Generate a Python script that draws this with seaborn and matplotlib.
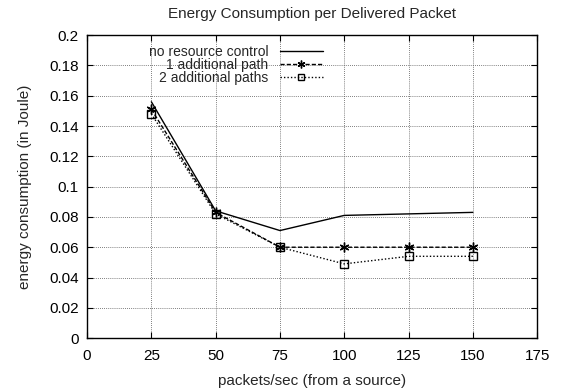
import matplotlib

matplotlib.use("Agg")
import matplotlib.pyplot as plt  # noqa: E402
import seaborn as sns  # noqa: E402

# ---------------------------------------------------------------------------
# Data
# ---------------------------------------------------------------------------
rates = [25, 50, 75, 100, 125, 150]
no_control = [0.156, 0.084, 0.071, 0.081, 0.082, 0.083]
one_path = [0.151, 0.083, 0.060, 0.060, 0.060, 0.060]
two_paths = [0.148, 0.082, 0.060, 0.049, 0.054, 0.054]

x_ticks = [0, 25, 50, 75, 100, 125, 150, 175]
y_ticks = [0, 0.02, 0.04, 0.06, 0.08, 0.1, 0.12, 0.14, 0.16, 0.18, 0.2]
y_tick_labels = ["0", "0.02", "0.04", "0.06", "0.08", "0.1", "0.12",
                 "0.14", "0.16", "0.18", "0.2"]

FS = 11

sns.set_theme(style="ticks")
plt.rcParams["font.family"] = ["Liberation Sans", "DejaVu Sans"]
plt.rcParams["font.size"] = FS

fig, ax = plt.subplots(figsize=(5.69, 3.9), dpi=100)
fig.subplots_adjust(left=0.153, right=0.944, top=0.91, bottom=0.133)

sns.lineplot(x=rates, y=no_control, ax=ax, color="black", lw=1.0,
             linestyle="-", label="no resource control")
sns.lineplot(x=rates, y=one_path, ax=ax, color="black", lw=1.0,
             linestyle=(0, (3, 1.5)), marker=(6, 2, 0), markersize=7,
             markeredgecolor="black", markeredgewidth=1.0,
             label="1 additional path")
sns.lineplot(x=rates, y=two_paths, ax=ax, color="black", lw=1.0,
             linestyle=(0, (1, 1.5)), marker="s", markersize=6,
             markerfacecolor="none", markeredgecolor="black",
             markeredgewidth=1.0, label="2 additional paths")

ax.set_xlim(0, 175)
ax.set_ylim(0, 0.2)
ax.set_xticks(x_ticks)
ax.set_yticks(y_ticks)
ax.set_yticklabels(y_tick_labels)
ax.tick_params(direction="in", top=True, right=True, length=4, width=0.8,
               labelsize=FS, colors="black", pad=6)
ax.tick_params(axis="x", pad=8)
ax.grid(True, color="#555555", linestyle=(0, (1, 1.5)), linewidth=0.6)
for sp in ax.spines.values():
    sp.set_color("black")
    sp.set_linewidth(1.0)

ax.set_title("Energy Consumption per Delivered Packet", fontsize=FS, pad=12)
ax.set_xlabel("packets/sec (from a source)", fontsize=FS, labelpad=8)
ax.set_ylabel("energy consumption (in Joule)", fontsize=FS, labelpad=12)

leg = ax.legend(loc="upper right", bbox_to_anchor=(0.536, 0.985),
                markerfirst=False, frameon=False, handlelength=3.1,
                handletextpad=0.8, labelspacing=-0.08, borderaxespad=0.0,
                fontsize=10, numpoints=1, markerscale=0.8)

fig.savefig("out.png", dpi=100)
